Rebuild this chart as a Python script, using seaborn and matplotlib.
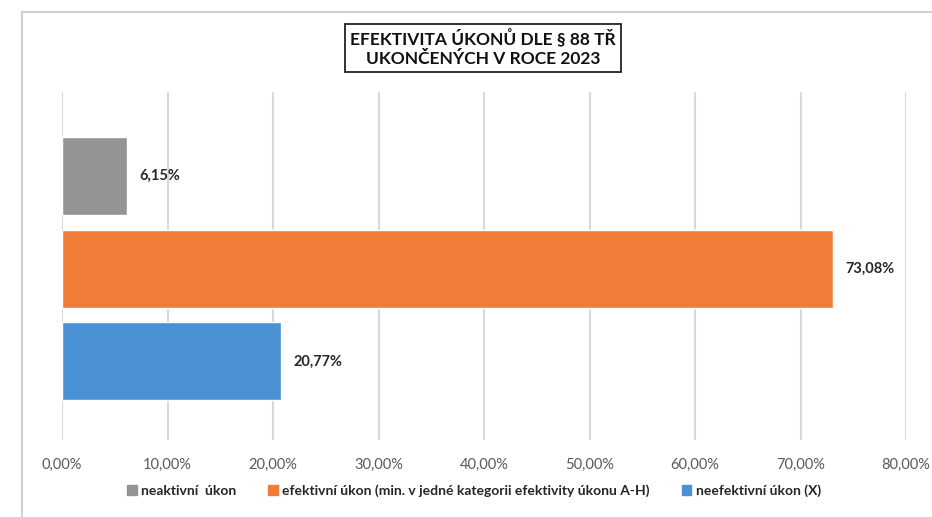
import matplotlib
matplotlib.use("Agg")
import matplotlib.pyplot as plt
import seaborn as sns
import pandas as pd
from matplotlib.patches import Patch, Rectangle
from matplotlib.ticker import FuncFormatter

categories = ["neaktivní  úkon",
              "efektivní úkon (min. v jedné kategorii efektivity úkonu A-H)",
              "neefektivní úkon (X)"]
values = [6.15, 73.08, 20.77]
colors = ["#939496", "#f07c37", "#4a92d3"]
xticks = [0, 10, 20, 30, 40, 50, 60, 70, 80]

df = pd.DataFrame({"kategorie": categories, "podil": values})

sns.set_theme(style="white")
plt.rcParams["font.family"] = ["Lato", "DejaVu Sans"]

fig = plt.figure(figsize=(9.32, 5.17), dpi=100)
ax = fig.add_axes([62/932, 1-440/517, (906-62)/932, (440-92)/517])

sns.barplot(data=df, x="podil", y="kategorie", hue="kategorie", palette=colors,
            order=categories, hue_order=categories, width=0.84, legend=False,
            saturation=1, ax=ax)

ax.set_xlim(0, 80)
ax.set_ylim(2.85, -0.91)
ax.set_xticks(xticks)
ax.xaxis.set_major_formatter(FuncFormatter(lambda v, p: f"{v:.2f}%".replace(".", ",")))
ax.grid(axis="x", color="#d9d9d9", lw=1.5)
ax.set_axisbelow(True)
ax.set_yticks([])
ax.set_xlabel("")
ax.set_ylabel("")
for s in ax.spines.values():
    s.set_visible(False)
ax.tick_params(axis="x", length=0, pad=13, labelsize=10.5, labelcolor="#595959")

for i, v in enumerate(values):
    ax.annotate(f"{v:.2f}%".replace(".", ","), (v, i), xytext=(9, 0),
                textcoords="offset points", va="center", ha="left",
                fontsize=10.5, fontweight="bold", color="#262626")

# title in a box
fig.text(483/932, 1-48/517, "EFEKTIVITA ÚKONŮ DLE § 88 TŘ\nUKONČENÝCH V ROCE 2023",
         ha="center", va="center", fontsize=12.5, fontweight="bold", color="#111111",
         linespacing=1.3,
         bbox=dict(boxstyle="square,pad=0.3", fc="white", ec="#222222", lw=1.3))

# outer chart border (cropped on right and bottom)
fig.patches.append(Rectangle((22/932, -0.1), 1.0, 1-12/517+0.1, transform=fig.transFigure,
                             fill=False, ec="#d0d0d0", lw=1.5))

handles = [Patch(color=c, label=l) for c, l in zip(colors, categories)]
fig.legend(handles=handles, loc="center", bbox_to_anchor=(474/932, 1-491/517), ncol=3,
           frameon=False, handlelength=0.7, handleheight=0.7, handletextpad=0.3,
           columnspacing=2.3, prop=dict(size=10, weight="bold"), labelcolor="#262626")

fig.savefig("out.png", dpi=100)
